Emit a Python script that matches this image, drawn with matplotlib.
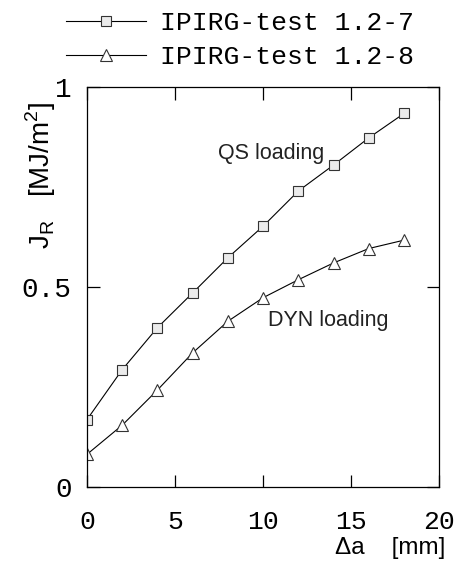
import matplotlib
matplotlib.use("Agg")
import matplotlib.pyplot as plt

# crack extension [mm]
da = [0, 2, 4, 6, 8, 10, 12, 14, 16, 18]
# J_R [MJ/m^2]
jr_qs = [0.168, 0.293, 0.398, 0.485, 0.573, 0.652, 0.740, 0.805, 0.873, 0.934]
jr_dyn = [0.081, 0.154, 0.242, 0.335, 0.414, 0.473, 0.518, 0.560, 0.596, 0.617]

labels = ["IPIRG-test 1.2-7", "IPIRG-test 1.2-8"]
x_ticks = [0, 5, 10, 15, 20]
y_ticks = [0, 0.5, 1]
y_ticklabels = ["0", "0.5", "1"]

mono = "Liberation Mono"
sans = "Liberation Sans"

fig = plt.figure(figsize=(4.58, 5.62), dpi=100)
ax = fig.add_axes([0.190, 0.134, 0.769, 0.711])

ax.plot(da, jr_qs, color="black", lw=0.8, marker="s", ms=7,
        mfc="#ebebeb", mec="#333333", mew=0.8, label=labels[0])
ax.plot(da, jr_dyn, color="black", lw=0.8, marker="^", ms=8,
        mfc="white", mec="#333333", mew=0.8, label=labels[1])

ax.set_xlim(0, 20)
ax.set_ylim(0, 1)
ax.set_xticks(x_ticks)
ax.set_yticks(y_ticks)
ax.set_yticklabels(y_ticklabels)
ax.tick_params(direction="in", length=9, width=0.9, top=True, right=True)
ax.tick_params(axis="x", pad=17)
ax.tick_params(axis="y", pad=11)
for t in ax.get_xticklabels():
    t.set_fontfamily(mono)
    t.set_fontsize(19)
for t in ax.get_yticklabels():
    t.set_fontfamily(mono)
    t.set_fontsize(20)
for s in ax.spines.values():
    s.set_linewidth(0.9)

ax.set_xlabel("\u0394a    [mm]", fontfamily=sans, fontsize=17.5)
ax.xaxis.set_label_coords(0.86, -0.154)
ax.xaxis.label.set_va("center")

ax.set_ylabel("J$_\\mathregular{R}$   [MJ/m$^\\mathregular{2}$]", fontfamily=sans, fontsize=20)
ax.yaxis.set_label_coords(-0.13, 0.78)
ax.yaxis.label.set_va("center")

ax.text(7.43, 0.835, "QS loading", fontfamily=sans, fontsize=15.5,
        color="#222222", ha="left", va="center")
ax.text(10.27, 0.417, "DYN loading", fontfamily=sans, fontsize=15.5,
        color="#222222", ha="left", va="center")

fig.legend(loc="upper left", bbox_to_anchor=(0.145, 0.98), frameon=False,
           prop={"family": mono, "size": 19}, handlelength=3.0,
           handletextpad=0.55, labelspacing=0.36, borderpad=0.0,
           borderaxespad=0.0)

fig.savefig("out.png", dpi=100)
